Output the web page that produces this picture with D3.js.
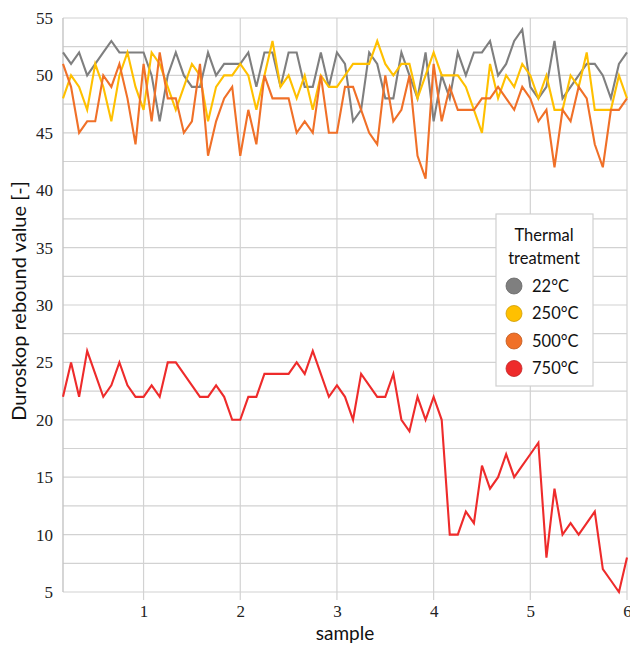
<!DOCTYPE html>
<html>
<head>
<meta charset="utf-8">
<script src="https://cdn.jsdelivr.net/npm/d3@7"></script>
<style>
  body { margin: 0; background: #fff; }
  svg { display: block; }
  .tick text { font-family: "Liberation Serif", "Times New Roman", "DejaVu Serif", serif; }
</style>
</head>
<body>
<div id="chart"></div>
<script>
// readings, 12 per sample, first one at sample 2/12
const t22 = [52,51,52,50,51,52,53,52,52,52,52,50,46,50,52,50,49,49,52,50,51,51,51,52,
  49,52,52,49,52,52,49,49,52,49,52,51,46,47,52,51,48,48,52,50,48,52,
  46,50,48,52,50,52,52,53,50,51,53,54,49,48,49,53,48,49,50,51,51,50,48,51,52];
const t250 = [48,50,49,47,51,49,46,50,52,49,47,52,51,49,47,49,51,50,46,49,50,50,51,50,
  47,50,53,49,50,48,50,47,50,49,49,50,51,51,51,53,51,50,51,51,48,50,
  52,50,50,50,49,47,45,51,48,50,49,51,50,48,50,47,47,50,49,52,47,47,47,50,48];
const t500 = [51,49,45,46,46,50,49,51,48,44,51,46,52,48,48,45,46,51,43,46,48,49,43,47,
  44,50,48,48,48,45,46,45,50,45,45,49,49,47,45,44,50,46,47,50,43,41,
  51,46,49,47,47,47,48,48,49,48,47,49,48,46,47,42,47,46,49,48,44,42,47,47,48];
const t750 = [22,25,22,26,24,22,23,25,23,22,22,23,22,25,25,24,23,22,22,23,22,20,20,22,
  22,24,24,24,24,25,24,26,24,22,23,22,20,24,23,22,22,24,20,19,22,20,
  22,20,10,10,12,11,16,14,15,17,15,16,17,18,8,14,10,11,10,11,12,7,6,5,8];

const seriesNames = ['22°C', '250°C', '500°C', '750°C'];
const seriesData = [t22, t250, t500, t750];
const colors = ['#7f7f7f', '#ffc000', '#f07028', '#ee2b2b'];
const xTicks = [1, 2, 3, 4, 5, 6];
const yTicks = [5, 10, 15, 20, 25, 30, 35, 40, 45, 50, 55];
const perSample = 12;

const width = 630, height = 648;
const margin = {top: 18, right: 3, bottom: 56, left: 63};
const sansFont = 'Lato, "Open Sans", sans-serif';

const svg = d3.select('#chart').append('svg')
  .attr('width', width)
  .attr('height', height);

const x = d3.scaleLinear()
  .domain([2 / perSample, 6])
  .range([margin.left, width - margin.right]);
const y = d3.scaleLinear()
  .domain([5, 55])
  .range([height - margin.bottom, margin.top]);

// grid
const grid = svg.append('g');
grid.selectAll('.hgrid')
  .data(d3.range(5, 55.1, 2.5))
  .enter()
  .append('line')
  .attr('class', 'hgrid')
  .attr('x1', margin.left)
  .attr('x2', width - margin.right)
  .attr('y1', d => y(d))
  .attr('y2', d => y(d))
  .style('stroke', '#d2d2d2')
  .style('stroke-width', 1.2);
grid.selectAll('.vgrid')
  .data(xTicks)
  .enter()
  .append('line')
  .attr('class', 'vgrid')
  .attr('x1', d => x(d))
  .attr('x2', d => x(d))
  .attr('y1', margin.top)
  .attr('y2', height - margin.bottom + 8)
  .style('stroke', '#d2d2d2')
  .style('stroke-width', 1.2);
grid.append('line')
  .attr('x1', margin.left).attr('x2', margin.left)
  .attr('y1', margin.top).attr('y2', height - margin.bottom)
  .style('stroke', '#c4c4c4')
  .style('stroke-width', 1.4);

// axes
const yAxis = svg.append('g')
  .attr('transform', 'translate(' + margin.left + ',0)')
  .call(d3.axisLeft(y).tickValues(yTicks).tickFormat(d3.format('d')).tickSize(0).tickPadding(10));
const xAxis = svg.append('g')
  .attr('transform', 'translate(0,' + (height - margin.bottom) + ')')
  .call(d3.axisBottom(x).tickValues(xTicks).tickFormat(d3.format('d')).tickSize(0).tickPadding(13));
[xAxis, yAxis].forEach(a => {
  a.select('.domain').remove();
  a.attr('font-family', null);
  a.selectAll('text')
    .style('font-size', '17px')
    .style('fill', '#222');
});

svg.append('text')
  .attr('x', (margin.left + width - margin.right) / 2)
  .attr('y', 640)
  .attr('text-anchor', 'middle')
  .style('font-family', sansFont)
  .style('font-size', '19px')
  .style('fill', '#111')
  .text('sample');
svg.append('text')
  .attr('transform', 'translate(26,301) rotate(-90)')
  .attr('text-anchor', 'middle')
  .style('font-family', sansFont)
  .style('font-size', '20px')
  .style('fill', '#111')
  .text('Duroskop rebound value [-]');

// lines
const line = d3.line()
  .x((d, i) => x((i + 2) / perSample))
  .y(d => y(d));
svg.append('g').selectAll('.series')
  .data(seriesData)
  .enter()
  .append('path')
  .attr('class', 'series')
  .attr('d', d => line(d))
  .style('fill', 'none')
  .style('stroke', (d, i) => colors[i])
  .style('stroke-width', 2.1)
  .style('stroke-linejoin', 'miter');

// legend
const lg = svg.append('g').attr('transform', 'translate(496,214)');
lg.append('rect')
  .attr('width', 97)
  .attr('height', 172)
  .style('fill', '#fff')
  .style('stroke', '#d0d0d0')
  .style('stroke-width', 1.2);
lg.selectAll('.ltitle')
  .data(['Thermal', 'treatment'])
  .enter()
  .append('text')
  .attr('x', 48)
  .attr('y', (d, i) => 27 + i * 23)
  .attr('text-anchor', 'middle')
  .style('font-family', sansFont)
  .style('font-size', '16.5px')
  .style('fill', '#111')
  .text(d => d);
const item = lg.selectAll('.item')
  .data(seriesNames)
  .enter()
  .append('g')
  .attr('transform', (d, i) => 'translate(0,' + (72 + i * 27.5) + ')');
item.append('circle')
  .attr('cx', 18)
  .attr('r', 8)
  .style('fill', (d, i) => colors[i])
  .style('stroke', (d, i) => d3.color(colors[i]).darker(0.6))
  .style('stroke-width', 0.8);
item.append('text')
  .attr('x', 36)
  .attr('dy', '0.35em')
  .style('font-family', sansFont)
  .style('font-size', '16.5px')
  .style('fill', '#111')
  .text(d => d);
</script>
</body>
</html>
